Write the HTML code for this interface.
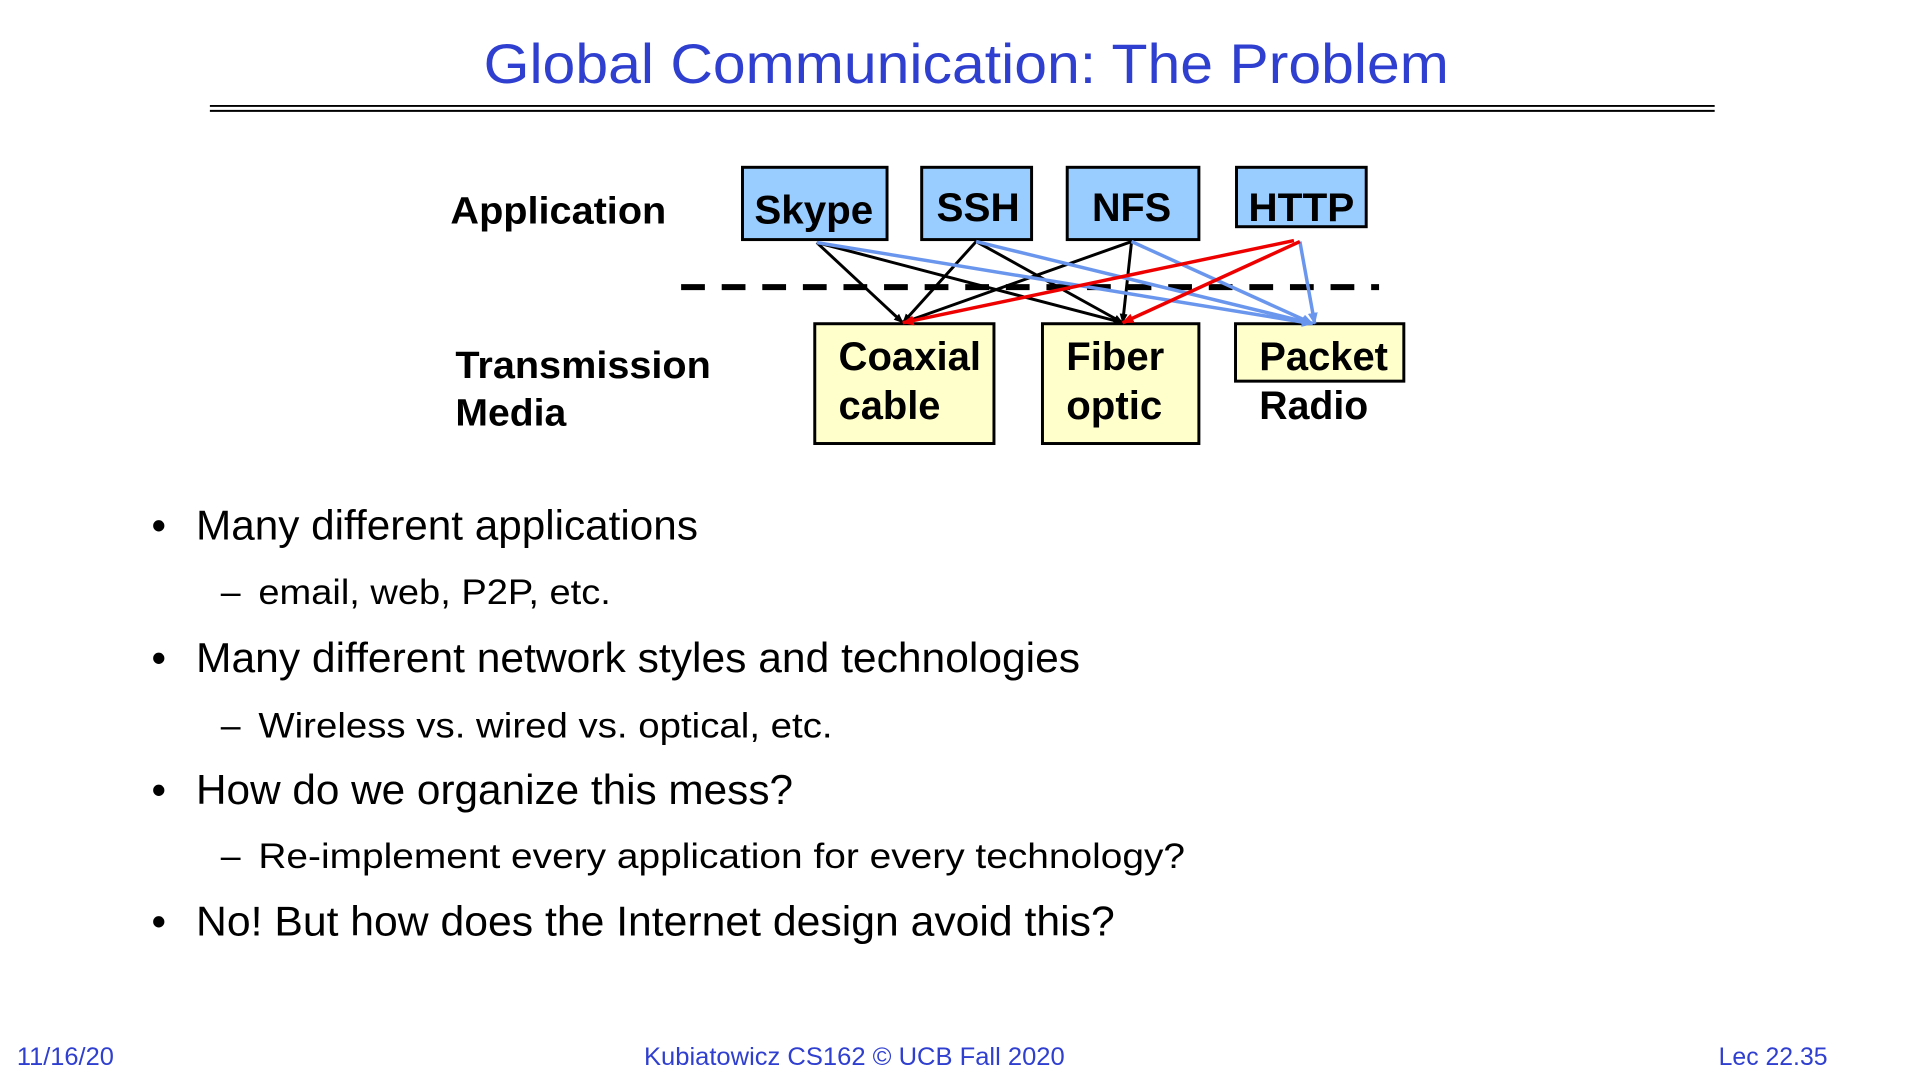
<!DOCTYPE html>
<html><head><meta charset="utf-8"><style>
html,body{margin:0;padding:0;background:#fff;}
svg{display:block;}
</style></head><body>
<svg width="1920" height="1080" viewBox="0 0 1920 1080" xmlns="http://www.w3.org/2000/svg">
<defs>
<marker id="ak" markerWidth="10" markerHeight="10" refX="9" refY="5" orient="auto" markerUnits="userSpaceOnUse"><path d="M0,1 L10,5 L0,9 z" fill="#000"/></marker>
<marker id="ab" markerWidth="12" markerHeight="12" refX="11" refY="6" orient="auto" markerUnits="userSpaceOnUse"><path d="M0,1 L12,6 L0,11 z" fill="#6a96ee"/></marker>
<marker id="ar" markerWidth="12" markerHeight="12" refX="11" refY="6" orient="auto" markerUnits="userSpaceOnUse"><path d="M0,1 L12,6 L0,11 z" fill="#e00"/></marker>
</defs>
<g transform="scale(0.99)">
<text x="976" y="84" text-anchor="middle" font-family="Liberation Sans, sans-serif" font-size="56" fill="#2f3fcf" textLength="975" lengthAdjust="spacingAndGlyphs">Global Communication: The Problem</text>
<line x1="212" y1="107" x2="1732" y2="107" stroke="#000" stroke-width="2"/>
<line x1="212" y1="112" x2="1732" y2="112" stroke="#000" stroke-width="2"/>

<g font-family="Liberation Sans, sans-serif" font-weight="bold" fill="#000">
<text x="455" y="226" font-size="38" textLength="218" lengthAdjust="spacingAndGlyphs">Application</text>
<text x="460" y="382" font-size="38" textLength="258" lengthAdjust="spacingAndGlyphs">Transmission</text>
<text x="460" y="430" font-size="38" textLength="112" lengthAdjust="spacingAndGlyphs">Media</text>
</g>

<g stroke="#000" stroke-width="3">
<rect x="750" y="169" width="146" height="73" fill="#99ccff"/>
<rect x="931" y="169" width="111" height="73" fill="#99ccff"/>
<rect x="1078" y="169" width="133" height="73" fill="#99ccff"/>
<rect x="1249" y="169" width="131" height="60" fill="#99ccff"/>
<rect x="823" y="327" width="181" height="121" fill="#ffffcc"/>
<rect x="1053" y="327" width="158" height="121" fill="#ffffcc"/>
<rect x="1248" y="327" width="170" height="58" fill="#ffffcc"/>
</g>
<g font-family="Liberation Sans, sans-serif" font-weight="bold" fill="#000" font-size="40">
<text x="762" y="226" textLength="120" lengthAdjust="spacingAndGlyphs">Skype</text>
<text x="946" y="223" textLength="84" lengthAdjust="spacingAndGlyphs">SSH</text>
<text x="1103" y="223" textLength="80" lengthAdjust="spacingAndGlyphs">NFS</text>
<text x="1261" y="223" textLength="107" lengthAdjust="spacingAndGlyphs">HTTP</text>
<text x="847" y="374" textLength="144" lengthAdjust="spacingAndGlyphs">Coaxial</text>
<text x="847" y="423" textLength="103" lengthAdjust="spacingAndGlyphs">cable</text>
<text x="1077" y="374" textLength="99" lengthAdjust="spacingAndGlyphs">Fiber</text>
<text x="1077" y="423" textLength="97" lengthAdjust="spacingAndGlyphs">optic</text>
<text x="1272" y="374" textLength="130" lengthAdjust="spacingAndGlyphs">Packet</text>
<text x="1272" y="423" textLength="110" lengthAdjust="spacingAndGlyphs">Radio</text>
</g>

<line x1="688" y1="290" x2="1393" y2="290" stroke="#000" stroke-width="6" stroke-dasharray="24,17"/>

<g stroke="#000" stroke-width="3" fill="none">
<line x1="825" y1="245" x2="912" y2="326" marker-end="url(#ak)"/>
<line x1="825" y1="245" x2="1134" y2="326" marker-end="url(#ak)"/>
<line x1="986" y1="244" x2="912" y2="326" marker-end="url(#ak)"/>
<line x1="986" y1="244" x2="1134" y2="326" marker-end="url(#ak)"/>
<line x1="1143" y1="244" x2="912" y2="326" marker-end="url(#ak)"/>
<line x1="1143" y1="244" x2="1134" y2="326" marker-end="url(#ak)"/>
</g>
<g stroke="#6a96ee" stroke-width="3.5" fill="none">
<line x1="825" y1="245" x2="1326" y2="327" marker-end="url(#ab)"/>
<line x1="986" y1="244" x2="1326" y2="327" marker-end="url(#ab)"/>
<line x1="1143" y1="244" x2="1326" y2="327" marker-end="url(#ab)"/>
<line x1="1313" y1="244" x2="1328" y2="327" marker-end="url(#ab)"/>
</g>
<g stroke="#e00" stroke-width="3.5" fill="none">
<line x1="1307" y1="243" x2="912" y2="326" marker-end="url(#ar)"/>
<line x1="1313" y1="244" x2="1134" y2="326" marker-end="url(#ar)"/>
</g>

<g font-family="Liberation Sans, sans-serif" fill="#000">
<g font-size="42">
<text x="153" y="545">•</text>
<text x="198" y="545" textLength="507" lengthAdjust="spacingAndGlyphs">Many different applications</text>
<text x="153" y="679">•</text>
<text x="198" y="679" textLength="893" lengthAdjust="spacingAndGlyphs">Many different network styles and technologies</text>
<text x="153" y="812">•</text>
<text x="198" y="812" textLength="603" lengthAdjust="spacingAndGlyphs">How do we organize this mess?</text>
<text x="153" y="945">•</text>
<text x="198" y="945" textLength="928" lengthAdjust="spacingAndGlyphs">No! But how does the Internet design avoid this?</text>
</g>
<g font-size="36">
<text x="223" y="610">–</text>
<text x="261" y="610" textLength="356" lengthAdjust="spacingAndGlyphs">email, web, P2P, etc.</text>
<text x="223" y="745">–</text>
<text x="261" y="745" textLength="580" lengthAdjust="spacingAndGlyphs">Wireless vs. wired vs. optical, etc.</text>
<text x="223" y="877">–</text>
<text x="261" y="877" textLength="936" lengthAdjust="spacingAndGlyphs">Re-implement every application for every technology?</text>
</g>
</g>

<g font-family="Liberation Sans, sans-serif" font-size="25" fill="#2f3fcf">
<text x="17" y="1076" textLength="98" lengthAdjust="spacingAndGlyphs">11/16/20</text>
<text x="863" y="1076" text-anchor="middle" textLength="425" lengthAdjust="spacingAndGlyphs">Kubiatowicz CS162 © UCB Fall 2020</text>
<text x="1846" y="1076" text-anchor="end" textLength="110" lengthAdjust="spacingAndGlyphs">Lec 22.35</text>
</g>
</g>
</svg>
</body></html>
